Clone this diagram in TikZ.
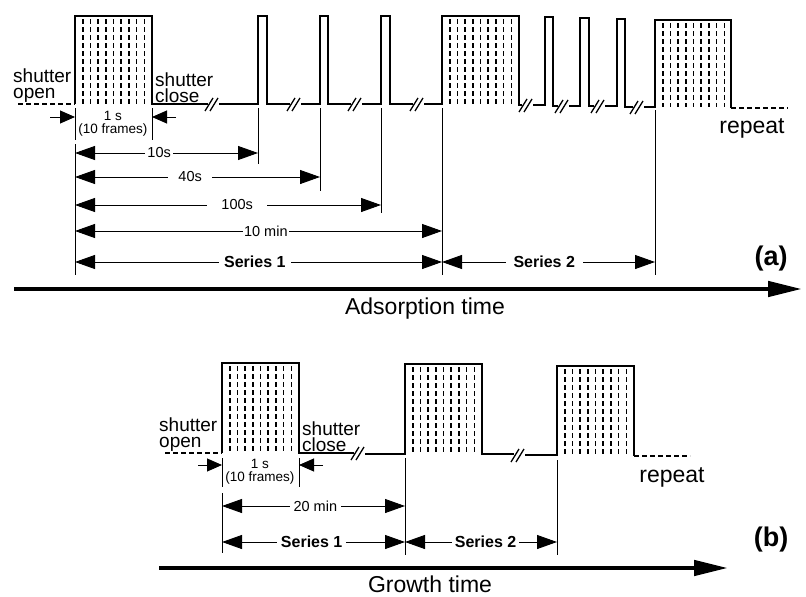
\documentclass[tikz,border=0pt]{standalone}
\usepackage{fontspec}
\setmainfont{Liberation Sans}
\usetikzlibrary{arrows.meta}

% dashed frame lines inside one exposure block
\newcommand{\frameticks}[3]{%
  \foreach \k in {1,...,9}
    \draw[frame] ({#1+\k*7.7},{#2+3}) -- ({#1+\k*7.7},#3);}
% break mark on the baseline
\newcommand{\brk}[2]{%
  \draw[wave] ({#1-9},{#2+7}) -- ({#1-1},{#2-6});
  \draw[wave] ({#1-4},{#2+7}) -- ({#1+4},{#2-6});}

\begin{document}
\begin{tikzpicture}[x=1pt, y=-1pt,
  wave/.style={line width=1.3pt, line join=miter},
  open/.style={line width=1.2pt, dash pattern=on 5pt off 3pt},
  frame/.style={line width=1.6pt, dash pattern=on 5pt off 3pt},
  tick/.style={line width=1pt},
  dimarrow/.style={line width=0.9pt, {Triangle[length=20pt,width=14pt]}-{Triangle[length=20pt,width=14pt]}},
  stoparrow/.style={line width=0.9pt, -{Triangle[length=15pt,width=13pt]}},
  axis/.style={line width=4.5pt, -{Triangle[length=34pt,width=15pt]}},
  lbl/.style={fill=white, inner ysep=1pt, font=\fontsize{14.5}{14}\selectfont},
  serieslbl/.style={fill=white, inner ysep=1pt, font=\fontsize{16}{16}\selectfont\bfseries},
  note/.style={align=left, anchor=south west, inner sep=0pt, font=\fontsize{19}{16.5}\selectfont},
  small/.style={align=center, inner sep=0pt, font=\fontsize{13.5}{13}\selectfont},
  big/.style={inner sep=0pt, font=\fontsize{23}{23}\selectfont},
  panel/.style={inner sep=0pt, font=\fontsize{27}{27}\selectfont\bfseries}]
  \useasboundingbox (0,0) rectangle (806,597);

  % ---------------- (a) adsorption ----------------
  % waveform
  \draw[open] (18,104) -- (75,104);
  \draw[wave] (75,104) -- (75,16) -- (152,16) -- (152,104) -- (208,104);
  \brk{214}{104}
  \draw[wave] (219,104) -- (258,104) -- (258,16) -- (267,16) -- (267,104) -- (290,104);
  \brk{296}{104}
  \draw[wave] (301,104) -- (320,104) -- (320,16) -- (328,16) -- (328,104) -- (351,104);
  \brk{357}{104}
  \draw[wave] (362,104) -- (381,104) -- (381,16) -- (390,16) -- (390,104) -- (413,104);
  \brk{419}{104}
  \draw[wave] (424,104) -- (442,104) -- (442,16) -- (519,16) -- (519,105) -- (522,105);
  \brk{528}{105}
  \draw[wave] (533,105) -- (545,105) -- (545,17) -- (553,17) -- (553,106) -- (558,106);
  \brk{564}{106}
  \draw[wave] (569,106) -- (580,106) -- (580,18) -- (589,18) -- (589,106) -- (594,106);
  \brk{600}{106}
  \draw[wave] (605,106) -- (617,106) -- (617,19) -- (625,19) -- (625,107) -- (633,107);
  \brk{639}{107}
  \draw[wave] (644,107) -- (655,107) -- (655,20) -- (731,20) -- (731,108);
  \draw[open] (731,108) -- (788,108);
  \frameticks{75}{16}{104}
  \frameticks{442}{16}{104}
  \frameticks{655}{20}{107}

  \node[note] (aopen) at (13,103) {shutter\\open};
  \node[note] (aclose) at (155,103) {shutter\\close};
  \node[big] (arep) at (752,128) {repeat};

  % exposure length
  \draw[tick] (75,108) -- (75,140);
  \draw[tick] (152,108) -- (152,140);
  \draw[stoparrow] (50,117) -- (75,117);
  \draw[stoparrow] (176,117) -- (152,117);
  \node[small] (aexp) at (113,124) {1 s\\(10 frames)};

  % time marks
  \draw[tick] (75,144) -- (75,275);
  \draw[tick] (258,108) -- (258,164);
  \draw[tick] (320,108) -- (320,191);
  \draw[tick] (381,108) -- (381,213);
  \draw[tick] (442,108) -- (442,275);
  \draw[tick] (655,110) -- (655,275);

  \draw[dimarrow] (75,153) -- node[lbl, pos=0.46, inner xsep=2pt] (a10s) {10s} (258,153);
  \draw[dimarrow] (75,177) -- node[lbl, pos=0.47, inner xsep=10pt] (a40s) {40s} (320,177);
  \draw[dimarrow] (75,205) -- node[lbl, pos=0.53, inner xsep=14pt] (a100s) {100s} (381,205);
  \draw[dimarrow] (75,231) -- node[lbl, pos=0.52, inner xsep=1pt] (a10min) {10 min} (442,231);
  \draw[dimarrow] (75,262) -- node[serieslbl, pos=0.49, inner xsep=5pt] (aser1) {Series 1} (442,262);
  \draw[dimarrow] (442,262) -- node[serieslbl, pos=0.48, inner xsep=8pt] (aser2) {Series 2} (655,262);

  \node[panel] (alab) at (771,259) {(a)};
  \draw[axis] (14,289) -- (802,289);
  \node[big] (aaxis) at (425,309) {Adsorption time};

  % ---------------- (b) growth ----------------
  \draw[open] (165,453) -- (222,453);
  \draw[wave] (222,453) -- (222,363) -- (299,363) -- (299,453) -- (354,453);
  \brk{360}{453}
  \draw[wave] (365,454) -- (405,454) -- (405,364) -- (482,364) -- (482,454) -- (514,454);
  \brk{520}{455}
  \draw[wave] (525,455) -- (557,455) -- (557,366) -- (634,366) -- (634,456);
  \draw[open] (634,456) -- (690,456);
  \frameticks{222}{363}{453}
  \frameticks{405}{364}{454}
  \frameticks{557}{366}{456}

  \node[note] (bopen) at (159,452) {shutter\\open};
  \node[note] (bclose) at (302,452) {shutter\\close};
  \node[big] (brep) at (672,477) {repeat};

  \draw[tick] (222,458) -- (222,487);
  \draw[tick] (299,458) -- (299,487);
  \draw[stoparrow] (198,465) -- (222,465);
  \draw[stoparrow] (323,465) -- (299,465);
  \node[small] (bexp) at (260,472) {1 s\\(10 frames)};

  \draw[tick] (222,493) -- (222,553);
  \draw[tick] (405,458) -- (405,555);
  \draw[tick] (557,460) -- (557,555);

  \draw[dimarrow] (222,506) -- node[lbl, pos=0.51, inner xsep=4pt] (b20min) {20 min} (405,506);
  \draw[dimarrow] (222,542) -- node[serieslbl, pos=0.49, inner xsep=4pt] (bser1) {Series 1} (405,542);
  \draw[dimarrow] (405,542) -- node[serieslbl, pos=0.53, inner xsep=3pt] (bser2) {Series 2} (557,542);

  \node[panel] (blab) at (771,540) {(b)};
  \draw[axis] (159,568) -- (728,568);
  \node[big] (baxis) at (430,584) {Growth time};
\end{tikzpicture}
\end{document}
